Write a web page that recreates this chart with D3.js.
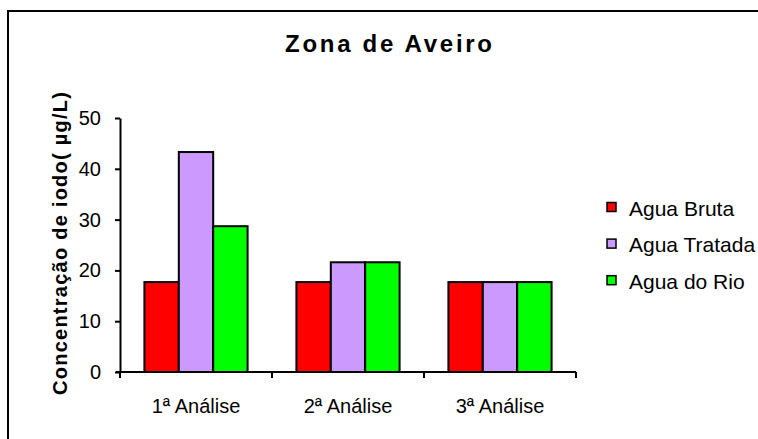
<!DOCTYPE html>
<html>
<head>
<meta charset="utf-8">
<script src="https://cdn.jsdelivr.net/npm/d3@7"></script>
<style>
  html, body { margin: 0; padding: 0; background: #fff; }
  svg { display: block; font-family: "Liberation Sans", Arial, sans-serif; }
</style>
</head>
<body>
<svg id="chart" width="758" height="439"></svg>
<script>
// Iodine concentration per analysis round, by water type
const categories = ["1ª Análise", "2ª Análise", "3ª Análise"];
const seriesNames = ["Agua Bruta", "Agua Tratada", "Agua do Rio"];
const seriesColors = ["#ff0000", "#cc99ff", "#00ff00"];
const aguaBruta = [17.7, 17.7, 17.7];
const aguaTratada = [43.3, 21.6, 17.7];
const aguaRio = [28.7, 21.6, 17.7];
const yTicks = [0, 10, 20, 30, 40, 50];

const series = [aguaBruta, aguaTratada, aguaRio];

const svg = d3.select("#chart");
const W = 758, H = 439;

// outer frame
svg.append("rect")
  .attr("x", 8).attr("y", 11)
  .attr("width", W).attr("height", H)
  .attr("fill", "none").attr("stroke", "#000").attr("stroke-width", 2);

const plot = { left: 120, right: 576, top: 118, bottom: 372 };

const x0 = d3.scaleBand().domain(categories).range([plot.left, plot.right]).paddingInner(0).paddingOuter(0);
const x1 = d3.scaleBand().domain(seriesNames).range([0, x0.bandwidth()]).paddingInner(0).paddingOuter(0.71);
const y = d3.scaleLinear().domain([0, 50]).range([plot.bottom, plot.top]);

// title
svg.append("text")
  .attr("x", 388.5).attr("y", 52)
  .attr("text-anchor", "middle")
  .attr("font-size", 24).attr("font-weight", "bold")
  .attr("textLength", 207).attr("lengthAdjust", "spacing")
  .text("Zona de Aveiro");

// bars
const groups = svg.append("g").selectAll("g")
  .data(categories)
  .join("g")
  .attr("transform", d => `translate(${x0(d)},0)`);

groups.selectAll("rect")
  .data((c, i) => seriesNames.map((s, j) => ({ s, j, v: series[j][i] })))
  .join("rect")
  .attr("x", d => x1(d.s))
  .attr("y", d => y(d.v))
  .attr("width", x1.bandwidth())
  .attr("height", d => y(0) - y(d.v))
  .attr("fill", d => seriesColors[d.j])
  .attr("stroke", "#000").attr("stroke-width", 2);

// y axis
const yAxis = svg.append("g")
  .attr("transform", `translate(${plot.left},0)`)
  .call(d3.axisLeft(y).tickValues(yTicks).tickSize(5).tickPadding(14).tickSizeOuter(0));
yAxis.select(".domain").attr("stroke-width", 2);
yAxis.selectAll(".tick line").attr("stroke-width", 2);
yAxis.selectAll("text")
  .attr("font-size", 20)
  .attr("font-family", "Liberation Sans, Arial, sans-serif")
  .attr("fill", "#000");

// x axis with ticks on category boundaries
const xAxisG = svg.append("g").attr("transform", `translate(0,${plot.bottom})`);
xAxisG.append("line")
  .attr("x1", plot.left - 4).attr("x2", plot.right)
  .attr("stroke", "#000").attr("stroke-width", 2);
const boundaries = categories.map(c => x0(c)).concat([x0(categories[categories.length - 1]) + x0.bandwidth()]);
xAxisG.selectAll("line.tk")
  .data(boundaries)
  .join("line")
  .attr("class", "tk")
  .attr("x1", d => d).attr("x2", d => d)
  .attr("y1", 0).attr("y2", 6)
  .attr("stroke", "#000").attr("stroke-width", 2);
xAxisG.selectAll("text")
  .data(categories)
  .join("text")
  .attr("x", d => x0(d) + x0.bandwidth() / 2)
  .attr("y", 41)
  .attr("text-anchor", "middle")
  .attr("font-size", 20)
  .text(d => d);

// y axis title
svg.append("text")
  .attr("transform", "translate(67,243.5) rotate(-90)")
  .attr("text-anchor", "middle")
  .attr("font-size", 20).attr("font-weight", "bold")
  .attr("textLength", 303).attr("lengthAdjust", "spacing")
  .text("Concentração de iodo( µg/L)");

// legend
const legend = svg.append("g").attr("transform", "translate(607,207)");
const rows = legend.selectAll("g")
  .data(seriesNames)
  .join("g")
  .attr("transform", (d, i) => `translate(0,${i * 36.6})`);
rows.append("rect")
  .attr("x", 0).attr("y", -4.5)
  .attr("width", 9).attr("height", 9)
  .attr("fill", (d, i) => seriesColors[i])
  .attr("stroke", "#000").attr("stroke-width", 1.5);
rows.append("text")
  .attr("x", 22).attr("y", 8.5)
  .attr("font-size", 21)
  .text(d => d);
</script>
</body>
</html>
